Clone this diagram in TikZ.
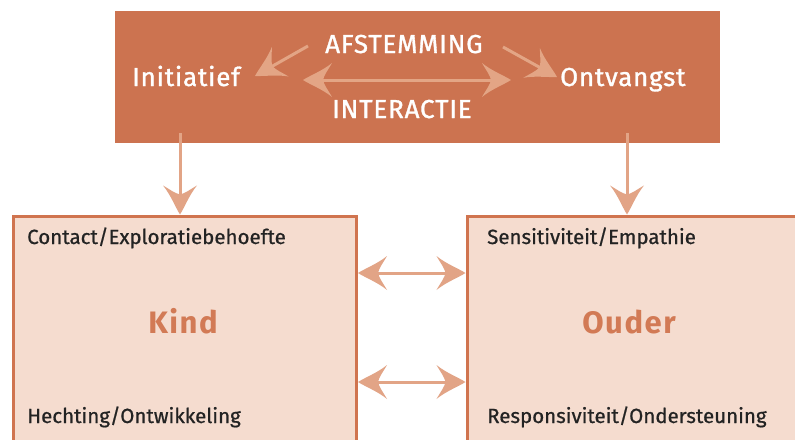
\documentclass[tikz,border=0pt]{standalone}
\usepackage{fontspec}
\setmainfont{Fira Sans}
\newfontfamily\semib{Fira Sans}[FakeBold=0.8]
\newfontfamily\topf{Fira Sans}[FakeBold=1.2,LetterSpace=3]
\newfontfamily\bigf{Fira Sans}[LetterSpace=5]
\usetikzlibrary{arrows.meta,decorations.markings}
\definecolor{topfill}{HTML}{CC7350}
\definecolor{boxfill}{HTML}{F5DCCF}
\definecolor{boxline}{HTML}{D0744F}
\definecolor{arr}{HTML}{E2A486}
\definecolor{arrin}{HTML}{E3A585}
\definecolor{kindc}{HTML}{D27A55}
\definecolor{dark}{HTML}{232323}
\newcommand{\headshape}[1]{\fill[#1] (0,0) .. controls (-8,5) and (-20,9.5) .. (-29,17)
  .. controls (-25,10) and (-21,5) .. (-20,0)
  .. controls (-21,-5) and (-25,-10) .. (-29,-17)
  .. controls (-20,-9.5) and (-8,-5) .. (0,0) -- cycle;}
\begin{document}
\begin{tikzpicture}[x=1pt,y=-1pt,
  toplabel/.style={text=white,font=\topf\fontsize{26}{28}\selectfont,inner sep=0pt,anchor=base west},
  boxlabel/.style={text=dark,font=\semib\fontsize{20.5}{22}\selectfont,inner sep=0pt,anchor=base west},
  biglabel/.style={text=kindc,font=\bigf\bfseries\fontsize{31}{34}\selectfont,inner sep=0pt,anchor=base},
  headend/.style={postaction={decorate,decoration={markings,mark=at position 1 with {\headshape{#1}}}}},
  headboth/.style={postaction={decorate,decoration={markings,
     mark=at position 0 with {\begin{scope}[xscale=-1]\headshape{#1}\end{scope}},
     mark=at position 1 with {\headshape{#1}}}}},
  bigarrow/.style={draw=arr,line width=3pt,shorten <=15pt,shorten >=15pt,headboth=arr},
  downarrow/.style={draw=arr,line width=3pt,shorten >=15pt,headend=arr},
  inarrow/.style={draw=arrin,line width=3pt,shorten >=15pt,headend=arrin},
  inboth/.style={draw=arrin,line width=3pt,shorten <=15pt,shorten >=15pt,headboth=arrin}]
\useasboundingbox (0,0) rectangle (795,439);
\fill[white] (0,0) rectangle (795,439);
% top box
\node[fill=topfill,minimum width=605pt,minimum height=132pt,inner sep=0pt,anchor=north west] (top) at (115,11) {};
% lower boxes
\node[fill=boxfill,draw=boxline,line width=3.5pt,minimum width=343pt,minimum height=240pt,inner sep=0pt,anchor=north west] (kind) at (11.5,214.5) {};
\node[fill=boxfill,draw=boxline,line width=3.5pt,minimum width=340pt,minimum height=240pt,inner sep=0pt,anchor=north west] (ouder) at (465.5,214.5) {};
% top labels
\node[toplabel] (ini) at (132,86) {Initiatief};
\node[toplabel] (ont) at (560,86) {Ontvangst};
\node[toplabel] (afs) at (325,53) {AFSTEMMING};
\node[toplabel] (int) at (332,118) {INTERACTIE};
\coordinate (afsL) at (308,46);
\coordinate (afsR) at (503,47);
\coordinate (iniT) at (255,76);
\coordinate (ontT) at (557,77);
\coordinate (intL) at (303,80);
\coordinate (intR) at (511,80);
\draw[inarrow] (afsL) -- (iniT);
\draw[inarrow] (afsR) -- (ontT);
\draw[inboth] (intL) -- (intR);
% vertical arrows
\coordinate (dL) at (180,133);
\coordinate (dR) at (627,133);
\draw[downarrow] (dL) -- (dL |- kind.north);
\draw[downarrow] (dR) -- (dR |- ouder.north);
% horizontal arrows
\coordinate (h1) at (0,273);
\coordinate (h2) at (0,382);
\draw[bigarrow] (kind.east |- h1) -- (ouder.west |- h1);
\draw[bigarrow] (kind.east |- h2) -- (ouder.west |- h2);
% box labels
\node[boxlabel] (c1) at (27,244) {Contact/Exploratiebehoefte};
\node[boxlabel] (c2) at (27,423) {Hechting/Ontwikkeling};
\node[boxlabel] (c3) at (487,244) {Sensitiviteit/Empathie};
\node[boxlabel] (c4) at (487,423) {Responsiviteit/Ondersteuning};
\node[biglabel] (k) at (183,333) {Kind};
\node[biglabel] (o) at (629,333) {Ouder};
\end{tikzpicture}
\end{document}
